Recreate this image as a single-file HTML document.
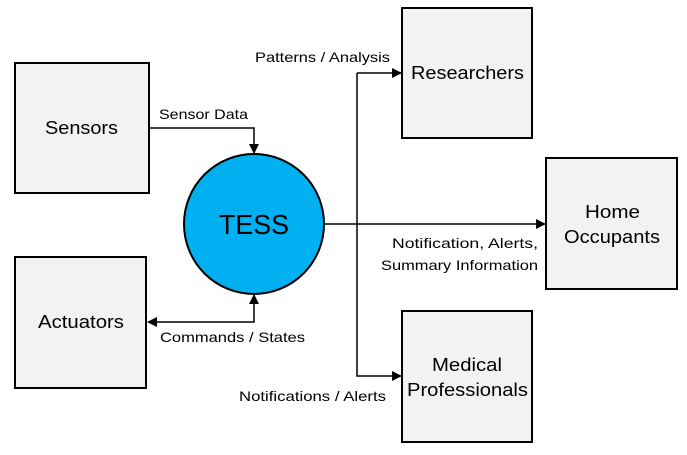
<!DOCTYPE html>
<html><head><style>
body{margin:0;background:#fff;width:687px;height:450px;overflow:hidden}
svg text{font-family:"Liberation Sans",sans-serif;fill:#000}
</style></head><body>
<svg width="687" height="450" xmlns="http://www.w3.org/2000/svg">
<defs><marker id="a" markerWidth="10" markerHeight="10" refX="9" refY="5" orient="auto-start-reverse" markerUnits="userSpaceOnUse"><path d="M0,0 L10,5 L0,10 Z" fill="#000"/></marker></defs>
<g fill="#f2f2f2" stroke="#000" stroke-width="2">
<rect x="15" y="63" width="134" height="130"/>
<rect x="15" y="257" width="131" height="131"/>
<rect x="402" y="8" width="130" height="130"/>
<rect x="546" y="158" width="131" height="131"/>
<rect x="402" y="311" width="130" height="131"/>
</g>
<g fill="none" stroke="#000" stroke-width="1.5">
<polyline points="149,128 254,128 254,153" marker-end="url(#a)"/>
<polyline points="254,295 254,322 148,322" marker-end="url(#a)" marker-start="url(#a)"/>
<line x1="324" y1="224" x2="545" y2="224" marker-end="url(#a)"/>
<polyline points="357,73 357,376 401,376" marker-end="url(#a)"/>
<line x1="357" y1="73" x2="401" y2="73" marker-end="url(#a)"/>
</g>
<circle cx="254" cy="224" r="70" fill="#00b0f0" stroke="#000" stroke-width="2"/>
<text x="219" y="234" font-size="28" textLength="70" lengthAdjust="spacingAndGlyphs">TESS</text>
<g font-size="18">
<text x="45" y="134" textLength="73" lengthAdjust="spacingAndGlyphs">Sensors</text>
<text x="38" y="328" textLength="86" lengthAdjust="spacingAndGlyphs">Actuators</text>
<text x="411" y="79" textLength="113" lengthAdjust="spacingAndGlyphs">Researchers</text>
<text x="585" y="218" textLength="55" lengthAdjust="spacingAndGlyphs">Home</text>
<text x="564" y="243" textLength="96" lengthAdjust="spacingAndGlyphs">Occupants</text>
<text x="432" y="371" textLength="70" lengthAdjust="spacingAndGlyphs">Medical</text>
<text x="407" y="396" textLength="121" lengthAdjust="spacingAndGlyphs">Professionals</text>
</g>
<g font-size="14">
<text x="159" y="119" textLength="89" lengthAdjust="spacingAndGlyphs">Sensor Data</text>
<text x="255" y="62" textLength="135" lengthAdjust="spacingAndGlyphs">Patterns / Analysis</text>
<text x="160" y="342" textLength="145" lengthAdjust="spacingAndGlyphs">Commands / States</text>
<text x="239" y="401" textLength="147" lengthAdjust="spacingAndGlyphs">Notifications / Alerts</text>
<text x="392" y="248" textLength="146" lengthAdjust="spacingAndGlyphs">Notification, Alerts,</text>
<text x="381" y="270" textLength="157" lengthAdjust="spacingAndGlyphs">Summary Information</text>
</g>
</svg>
</body></html>
